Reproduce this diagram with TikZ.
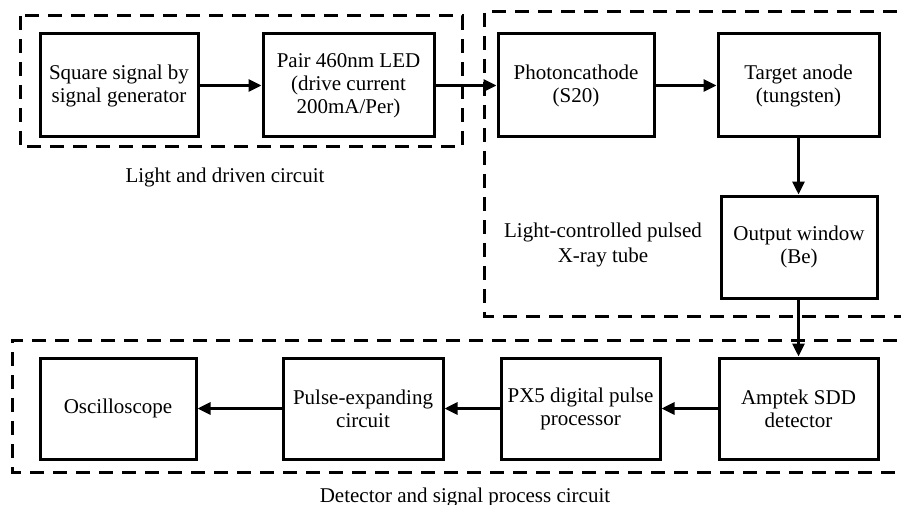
\documentclass[tikz,border=0pt]{standalone}
\usepackage{fontspec}
\setmainfont{Liberation Serif}
\usetikzlibrary{arrows.meta}

\tikzset{
  blk/.style={draw, line width=3pt, rectangle, align=center,
    inner sep=0pt, font=\fontsize{21}{23}\selectfont},
  grp/.style={line width=3pt, dash pattern=on 14pt off 9pt},
  flow/.style={line width=3pt, -{Triangle[length=13pt,width=12pt]}},
  lbl/.style={align=center, font=\fontsize{21}{25}\selectfont}
}

\begin{document}
\begin{tikzpicture}[x=1pt, y=-1pt]
\clip (0,0) rectangle (901,505);
\fill[white] (0,0) rectangle (901,505);

% dashed group frames
\draw[grp] (20,16) rectangle (462,147);
\draw[grp] (920,12) -- (484,12) -- (484,316) -- (920,316);
\draw[grp] (920,340) -- (12,340) -- (12,472) -- (920,472);

% top row
\node[blk, minimum width=158pt, minimum height=103pt] (sq) at (119,85.5)
  {Square signal by\\signal generator};
\node[blk, minimum width=171pt, minimum height=103pt] (led) at (348.5,85.5)
  {Pair 460nm LED\\(drive current\\200mA/Per)};
\node[blk, minimum width=156pt, minimum height=103pt] (pc) at (576,85.5)
  {Photoncathode\\(S20)};
\node[blk, minimum width=161pt, minimum height=103pt] (ta) at (798.5,85.5)
  {Target anode\\(tungsten)};
\node[blk, minimum width=156pt, minimum height=102pt] (ow) at (799,247)
  {Output window\\(Be)};

% bottom row
\node[blk, minimum width=159pt, minimum height=101pt] (amp) at (798.5,408.5)
  {Amptek SDD\\detector};
\node[blk, minimum width=159pt, minimum height=101pt] (px) at (580.5,408.5)
  {PX5 digital pulse\\processor};
\node[blk, minimum width=160pt, minimum height=101pt] (pe) at (363,408.5)
  {Pulse-expanding\\circuit};
\node[blk, minimum width=156pt, minimum height=101pt] (osc) at (118,408.5)
  {Oscilloscope};

% group labels
\node[lbl] (l1) at (225,177) {Light and driven circuit};
\node[lbl] (l2) at (603,245) {Light-controlled pulsed\\X-ray tube};
\node[lbl, anchor=base] (l3) at (465,502) {Detector and signal process circuit};

% signal flow
\draw[flow] (sq) -- (led);
\draw[flow] (led) -- (pc);
\draw[flow] (pc) -- (ta);
\draw[flow] (ta.south) -- (ta.south |- ow.north);
\draw[flow] (ta.south |- ow.south) -- (ta.south |- amp.north);
\draw[flow] (amp) -- (px);
\draw[flow] (px) -- (pe);
\draw[flow] (pe) -- (osc);
\end{tikzpicture}
\end{document}
